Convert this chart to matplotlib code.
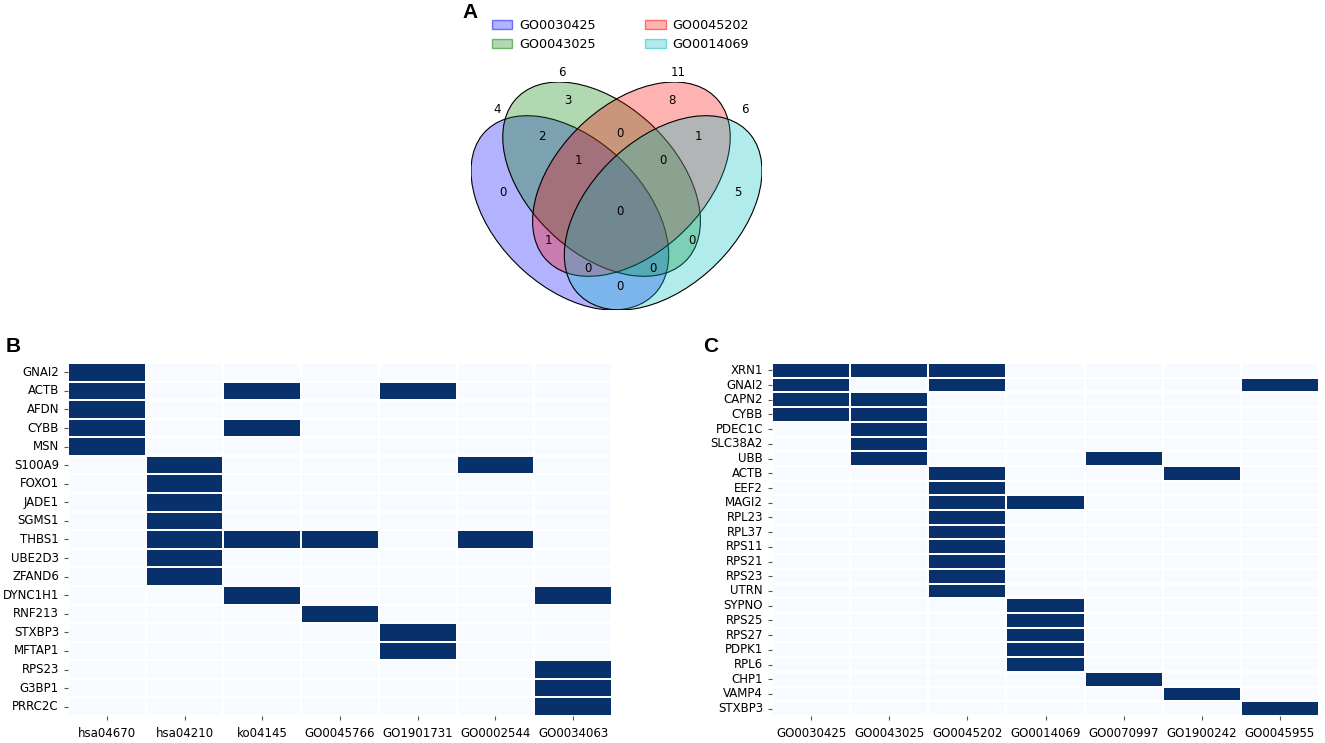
import matplotlib
matplotlib.use("Agg")
import matplotlib.pyplot as plt
import pandas as pd
import seaborn as sns
from matplotlib.patches import Ellipse, Patch

# ---- panel A: venn of four GO terms ----
venn_names = ["GO0030425", "GO0043025", "GO0045202", "GO0014069"]
venn_colors = ["blue", "green", "red", "c"]
venn_totals = [4, 6, 11, 6]
# region key = membership in (GO0030425, GO0043025, GO0045202, GO0014069)
venn_counts = {
    "1000": 0, "0100": 3, "0010": 8, "0001": 5,
    "1100": 2, "0110": 0, "0011": 1,
    "1110": 1, "0111": 0, "1111": 0,
    "1010": 1, "0101": 0,
    "1011": 0, "1101": 0, "1001": 0,
}

# ---- panel B ----
b_terms = ["hsa04670", "hsa04210", "ko04145", "GO0045766", "GO1901731", "GO0002544", "GO0034063"]
b_genes = ["GNAI2", "ACTB", "AFDN", "CYBB", "MSN", "S100A9", "FOXO1", "JADE1", "SGMS1", "THBS1",
           "UBE2D3", "ZFAND6", "DYNC1H1", "RNF213", "STXBP3", "MFTAP1", "RPS23", "G3BP1", "PRRC2C"]
b_hits = [
    ["hsa04670"],
    ["hsa04670", "ko04145", "GO1901731"],
    ["hsa04670"],
    ["hsa04670", "ko04145"],
    ["hsa04670"],
    ["hsa04210", "GO0002544"],
    ["hsa04210"],
    ["hsa04210"],
    ["hsa04210"],
    ["hsa04210", "ko04145", "GO0045766", "GO0002544"],
    ["hsa04210"],
    ["hsa04210"],
    ["ko04145", "GO0034063"],
    ["GO0045766"],
    ["GO1901731"],
    ["GO1901731"],
    ["GO0034063"],
    ["GO0034063"],
    ["GO0034063"],
]

# ---- panel C ----
c_terms = ["GO0030425", "GO0043025", "GO0045202", "GO0014069", "GO0070997", "GO1900242", "GO0045955"]
c_genes = ["XRN1", "GNAI2", "CAPN2", "CYBB", "PDEC1C", "SLC38A2", "UBB", "ACTB", "EEF2", "MAGI2",
           "RPL23", "RPL37", "RPS11", "RPS21", "RPS23", "UTRN", "SYPNO", "RPS25", "RPS27", "PDPK1",
           "RPL6", "CHP1", "VAMP4", "STXBP3"]
c_hits = [
    ["GO0030425", "GO0043025", "GO0045202"],
    ["GO0030425", "GO0045202", "GO0045955"],
    ["GO0030425", "GO0043025"],
    ["GO0030425", "GO0043025"],
    ["GO0043025"],
    ["GO0043025"],
    ["GO0043025", "GO0070997"],
    ["GO0045202", "GO1900242"],
    ["GO0045202"],
    ["GO0045202", "GO0014069"],
    ["GO0045202"],
    ["GO0045202"],
    ["GO0045202"],
    ["GO0045202"],
    ["GO0045202"],
    ["GO0045202"],
    ["GO0014069"],
    ["GO0014069"],
    ["GO0014069"],
    ["GO0014069"],
    ["GO0014069"],
    ["GO0070997"],
    ["GO1900242"],
    ["GO0045955"],
]


def to_matrix(genes, terms, hits):
    df = pd.DataFrame(0, index=genes, columns=terms)
    for g, hs in zip(genes, hits):
        for t in hs:
            df.loc[g, t] = 1
    return df


fig = plt.figure(figsize=(13.25, 7.43), dpi=100)

# venn
ax_v = fig.add_axes([471 / 1325, 1 - 310 / 743, 291 / 1325, 228 / 743])
ell_xy = [(0.350, 0.400), (0.450, 0.500), (0.544, 0.500), (0.644, 0.400)]
ell_ang = [140, 140, 40, 40]
for (x, y), ang, col in zip(ell_xy, ell_ang, venn_colors):
    rgba = matplotlib.colors.to_rgba(col, 0.3)
    ax_v.add_patch(Ellipse((x, y), 0.72, 0.45, angle=ang, facecolor=rgba,
                           edgecolor="black", lw=0.8))
region_pos = {
    "1000": (0.139, 0.459), "0100": (0.344, 0.735), "0010": (0.672, 0.735), "0001": (0.880, 0.459),
    "1100": (0.262, 0.628), "0110": (0.508, 0.637), "0011": (0.754, 0.628),
    "1110": (0.376, 0.554), "0111": (0.644, 0.554), "1111": (0.508, 0.403),
    "1010": (0.281, 0.317), "0101": (0.735, 0.317),
    "1011": (0.407, 0.236), "1101": (0.612, 0.236), "1001": (0.508, 0.180),
}
for k, v in venn_counts.items():
    ax_v.text(*region_pos[k], str(v), ha="center", va="center", fontsize=8.5)
total_pos = [(0.120, 0.706), (0.325, 0.818), (0.691, 0.818), (0.902, 0.706)]
for (x, y), t in zip(total_pos, venn_totals):
    ax_v.text(x, y, str(t), ha="center", va="center", fontsize=8.5, clip_on=False)
ax_v.set_xlim(0.0386, 0.9554)
ax_v.set_ylim(0.1114, 0.7886)
ax_v.axis("off")

handles = [Patch(facecolor=matplotlib.colors.to_rgba(c, 0.3),
                 edgecolor=matplotlib.colors.to_rgba(c, 0.5), label=n)
           for n, c in zip(venn_names, venn_colors)]
fig.legend(handles=handles, loc="upper left", bbox_to_anchor=(492 / 1325, 1 - 19 / 743),
           ncol=2, frameon=False, fontsize=9.2, handlelength=1.6, handleheight=0.7,
           columnspacing=3.9, labelspacing=0.45, borderpad=0, borderaxespad=0, handletextpad=0.5)

# heatmaps
ax_b = fig.add_axes([68 / 1325, 1 - 716 / 743, 544 / 1325, 353 / 743])
ax_c = fig.add_axes([772 / 1325, 1 - 716 / 743, 547 / 1325, 353 / 743])
for ax, genes, terms, hits in [(ax_b, b_genes, b_terms, b_hits), (ax_c, c_genes, c_terms, c_hits)]:
    m = to_matrix(genes, terms, hits)
    sns.heatmap(m, ax=ax, cmap="Blues", cbar=False, linewidths=1.2, linecolor="white",
                vmin=0, vmax=1)
    ax.tick_params(axis="both", length=3, width=0.8, color="#555555", labelsize=8.5)
    ax.tick_params(axis="x", pad=5)
    ax.set_xticklabels(terms, rotation=0)
    ax.set_yticklabels(genes, rotation=0)

fig.text(470 / 1325, 1 - 13 / 743, "A", fontsize=15, fontweight="bold", family="Liberation Sans",
         ha="center", va="center")
fig.text(13 / 1325, 1 - 347 / 743, "B", fontsize=15, fontweight="bold", family="Liberation Sans",
         ha="center", va="center")
fig.text(711 / 1325, 1 - 347 / 743, "C", fontsize=15, fontweight="bold", family="Liberation Sans",
         ha="center", va="center")

fig.savefig("out.png", dpi=100)
